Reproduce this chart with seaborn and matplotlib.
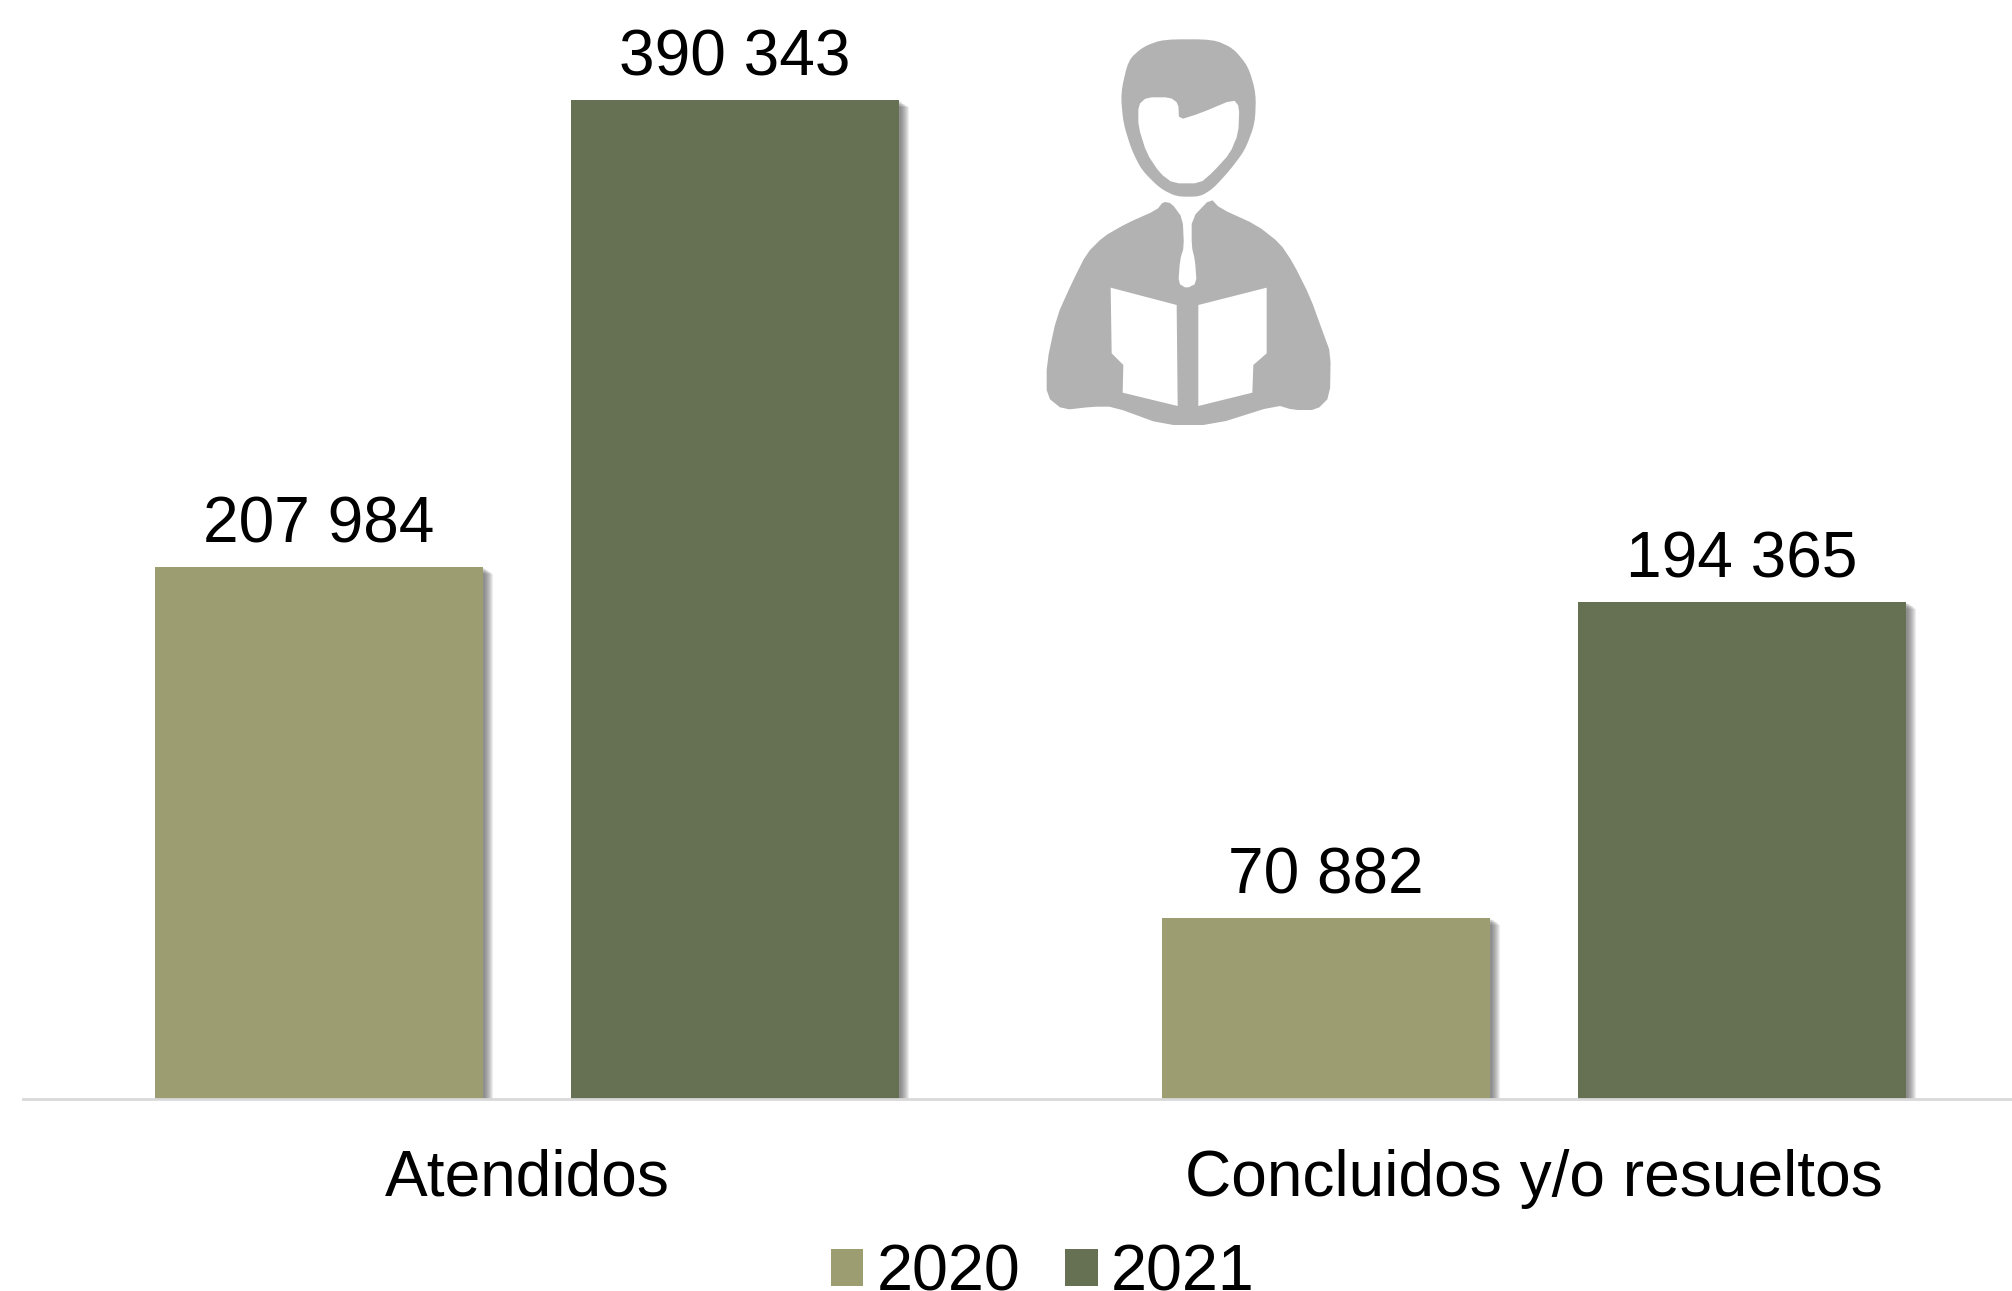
import pandas as pd
import matplotlib
matplotlib.use("Agg")
import matplotlib.pyplot as plt
import matplotlib.patheffects as pe
from matplotlib.patches import Polygon, Patch
import seaborn as sns

# ── Data ──────────────────────────────────────────────────────────────────────
categories = ["Atendidos", "Concluidos y/o resueltos"]
years = ["2020", "2021"]
values_2020 = [207984, 70882]
values_2021 = [390343, 194365]
colors = {"2020": "#9C9D70", "2021": "#667052"}

df = pd.DataFrame({
    "categoria": categories * 2,
    "anio": [years[0]] * 2 + [years[1]] * 2,
    "valor": values_2020 + values_2021,
})

W, H = 2012, 1291
sns.set_theme(style="white")
plt.rcParams["font.family"] = ["Liberation Sans", "DejaVu Sans"]
FS = 46.1

fig = plt.figure(figsize=(W / 100, H / 100), dpi=100, facecolor="white")
BASE = 1099
LEFT = 23.5
ax = fig.add_axes([LEFT / W, 1 - BASE / H, (W - LEFT) / W, BASE / H])

sns.barplot(data=df, x="categoria", y="valor", hue="anio", hue_order=years,
            palette=colors, saturation=1, width=0.826, gap=0.211, ax=ax,
            legend=False, order=categories, errorbar=None)

ax.set_xlim(-0.5, -0.5 + (W - LEFT) / 1007)
ax.set_ylim(0, max(values_2021) * (BASE - 1) / 998)
ax.set_xlabel("")
ax.set_ylabel("")
ax.set_yticks([])
for s in ["top", "left", "right"]:
    ax.spines[s].set_visible(False)
ax.spines["bottom"].set_color("#D9D9D9")
ax.spines["bottom"].set_linewidth(2.0)
ax.tick_params(axis="x", length=0, labelsize=FS, pad=36, labelcolor="black")

# Soft shadow on the right/bottom of every bar
shadow = [pe.SimplePatchShadow(offset=(k * 0.72, -k * 0.5), shadow_rgbFace="#404040", alpha=0.09)
          for k in (10, 9, 8, 7, 6, 5, 4, 3, 2)]
for bar in ax.patches:
    bar.set_linewidth(0)
    bar.set_path_effects(shadow + [pe.Normal()])

for cont in ax.containers:
    labels = [f"{int(b.get_height()):,}".replace(",", " ") for b in cont]
    ax.bar_label(cont, labels=labels, fontsize=FS, color="black", padding=8.2)

handles = [Patch(color=colors[y], label=y, linewidth=0) for y in years]
fig.legend(handles=handles, ncol=2, frameon=False, fontsize=46.6,
           loc="lower left", bbox_to_anchor=(0.413, -0.0095), borderaxespad=0, borderpad=0,
           handlelength=0.5, handleheight=0.5, handletextpad=0.2, columnspacing=0.70,
           labelcolor="black")

# ── Reader icon (decoration, traced in px over the whole figure) ──────────────
ov = fig.add_axes([0, 0, 1, 1], facecolor="none")
ov.set_xlim(0, W)
ov.set_ylim(H, 0)
ov.axis("off")

def smooth(pts, n=2):
    # corner cutting, the traced outlines are rough
    for _ in range(n):
        out = []
        for i, (x0, y0) in enumerate(pts):
            x1, y1 = pts[(i + 1) % len(pts)]
            out += [(0.8 * x0 + 0.2 * x1, 0.8 * y0 + 0.2 * y1), (0.2 * x0 + 0.8 * x1, 0.2 * y0 + 0.8 * y1)]
        pts = out
    return pts

def icon(pts, col):
    xy = [(1000 + x / 3, 20 + y / 3) for x, y in pts]
    ov.add_patch(Polygon(xy, closed=True, fc=col, ec="none"))

GREY = "#B2B2B2"
icon(smooth([(490, 58), (640, 58), (700, 85), (745, 140), (768, 220), (765, 310), (735, 390), (690, 450),
             (640, 505), (600, 530), (530, 530), (480, 505), (425, 450), (395, 390), (370, 310), (362, 220),
             (385, 120), (430, 80)]), GREY)
icon(smooth([(415, 255), (440, 232), (510, 232), (535, 250), (537, 300), (600, 280), (700, 238), (718, 260),
             (715, 340), (690, 400), (640, 455), (600, 490), (520, 490), (480, 460), (440, 400), (415, 320)], 1), "white")
icon(smooth([(490, 545), (515, 550), (548, 595), (552, 680), (540, 720), (535, 790), (560, 805), (590, 790),
             (585, 720), (575, 680), (575, 595), (632, 535), (660, 565), (770, 615), (840, 670), (880, 730),
             (930, 830), (970, 940), (992, 1000), (990, 1130), (950, 1170), (880, 1170), (830, 1155), (640, 1215),
             (490, 1215), (340, 1160), (280, 1160), (190, 1170), (140, 1130), (140, 1030), (170, 890), (215, 790),
             (260, 700), (310, 650), (380, 610), (470, 570)], 1), GREY)
icon([(332, 803), (530, 855), (533, 1158), (368, 1118), (370, 1035), (335, 1000)], "white")
icon([(595, 855), (800, 803), (800, 1000), (760, 1035), (757, 1118), (595, 1158)], "white")

fig.savefig("out.png", dpi=100)
